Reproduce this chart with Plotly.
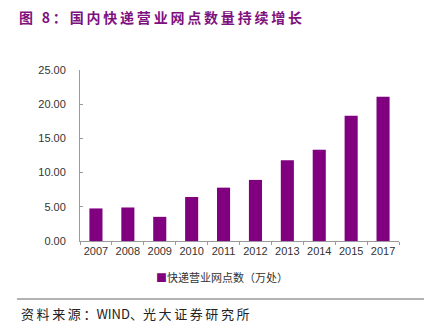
import plotly.graph_objects as go

# Express delivery outlets in China (10k locations)
years = ["2007", "2008", "2009", "2010", "2011", "2012", "2013", "2014", "2015", "2017"]
outlets = [4.76, 4.90, 3.53, 6.43, 7.80, 8.93, 11.82, 13.34, 18.30, 21.09]
series_name = "快递营业网点数（万处）"
y_ticks = [0, 5, 10, 15, 20, 25]
title_text = "图 8：国内快递营业网点数量持续增长"

PURPLE = "#800080"
AXIS_GREY = "#9a9a9a"
TEXT_GREY = "#333333"
LATIN = "Liberation Sans, Arial, sans-serif"
CJK = "Noto Sans CJK SC, Liberation Sans, sans-serif"

W, H = 441, 333
L, R, T, B = 80, 42, 70, 92
pw, ph = W - L - R, H - T - B


def px_x(x):
    return (x - L) / pw


def px_y(y):
    return (H - B - y) / ph


def spaced(s, sep="\u2009"):
    return sep.join(s)


fig = go.Figure()
fig.add_trace(go.Bar(
    x=years,
    y=outlets,
    name=series_name,
    marker=dict(color=PURPLE, line=dict(width=0)),
    showlegend=False,
))

fig.update_layout(
    width=W,
    height=H,
    margin=dict(l=L, r=R, t=T, b=B),
    paper_bgcolor="white",
    plot_bgcolor="white",
    bargap=0.59,
    font=dict(family=CJK, color=TEXT_GREY, size=11),
    title=dict(
        text=spaced(title_text),
        x=19 / W,
        xanchor="left",
        y=1 - 18 / H,
        yanchor="middle",
        font=dict(family=CJK, size=14, color="#7d1180", weight="bold"),
    ),
    xaxis=dict(
        type="category",
        showline=True,
        linecolor=AXIS_GREY,
        linewidth=1,
        ticks="outside",
        tickson="boundaries",
        ticklen=3,
        tickcolor=AXIS_GREY,
        showgrid=False,
        tickangle=0,
        tickfont=dict(family=LATIN, size=11, color=TEXT_GREY),
    ),
    yaxis=dict(
        range=[0, 25],
        tickvals=y_ticks,
        tickformat=".2f",
        showline=True,
        linecolor=AXIS_GREY,
        linewidth=1,
        ticks="inside",
        ticklen=3,
        tickcolor=AXIS_GREY,
        showgrid=False,
        zeroline=False,
        tickfont=dict(family=LATIN, size=11, color=TEXT_GREY),
        ticklabelstandoff=11,
    ),
)

# Legend entry: coloured square followed by the series name
fig.add_annotation(
    text=f"<span style='color:{PURPLE}'>■</span>{series_name}",
    xref="paper", yref="paper",
    x=px_x(154), y=px_y(277),
    xanchor="left", yanchor="middle",
    showarrow=False,
    font=dict(family=CJK, size=11, color=TEXT_GREY),
)

# Separator rule above the source note
fig.add_shape(
    type="line",
    xref="paper", yref="paper",
    x0=px_x(17), x1=px_x(424),
    y0=px_y(299), y1=px_y(299),
    line=dict(color="#666666", width=1),
)

fig.add_annotation(
    text=spaced("资料来源：") + "WIND、" + spaced("光大证券研究所"),
    xref="paper", yref="paper",
    x=px_x(19), y=px_y(313),
    xanchor="left", yanchor="middle",
    showarrow=False,
    font=dict(family=CJK, size=13, color="#222222"),
)

fig.write_html("out.html")
